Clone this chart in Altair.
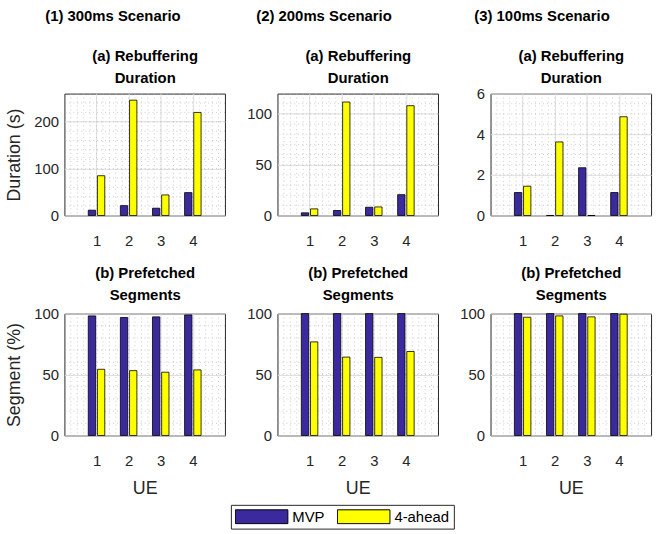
import altair as alt
import pandas as pd

# ---------------- data ----------------
ues = [1, 2, 3, 4]
series = ["MVP", "4-ahead"]
scenarios = ["(1) 300ms Scenario", "(2) 200ms Scenario", "(3) 100ms Scenario"]

rebuf_mvp = [
    [11.3, 21.0, 15.5, 48.8],     # 300ms
    [2.6, 4.9, 8.1, 20.5],        # 200ms
    [1.13, 0.0, 2.35, 1.13],      # 100ms
]
rebuf_ahead = [
    [84.8, 246.0, 43.8, 219.8],
    [6.5, 111.7, 8.4, 108.1],
    [1.44, 3.62, 0.0, 4.86],
]
seg_mvp = [
    [98.1, 96.8, 97.3, 98.9],
    [100.0, 100.0, 100.0, 100.0],
    [100.0, 100.0, 100.0, 100.0],
]
seg_ahead = [
    [54.3, 53.2, 51.9, 53.8],
    [76.8, 64.3, 64.1, 68.9],
    [97.0, 98.1, 97.3, 99.5],
]

rebuf_ymax = [260, 120, 6]
rebuf_ticks = [[0, 100, 200], [0, 50, 100], [0, 2, 4, 6]]
rebuf_minor = [20, 10, 0.5]
seg_ymax = 100
seg_ticks = [0, 50, 100]
seg_minor = 10

# ---------------- style ----------------
FONT = "Liberation Sans"
BLUE = "#3a2a9e"
YELLOW = "#ffff00"
DARK = "#262626"
GRID = "#e0e0e0"
MINOR = "#bdbdbd"

legend = alt.Legend(
    title=None, orient="none", legendX=168, legendY=415, direction="horizontal",
    symbolType="M-1,-0.264H1V0.264H-1Z", symbolSize=2809, clipHeight=16,
    symbolStrokeColor="black", symbolStrokeWidth=1, symbolOpacity=1,
    labelFont=FONT, labelFontSize=15, labelColor="black", labelOffset=4,
    columnPadding=12, strokeColor=DARK, padding=4, fillColor="white",
)


def panel(mvp, ahead, ymax, yticks, minor, head_lines, head_pad, ytitle, xtitle,
          scen=None, scen_dx=0):
    df = pd.DataFrame({
        "UE": ues + ues,
        "Series": [series[0]] * 4 + [series[1]] * 4,
        "Value": list(mvp) + list(ahead),
    })
    xs = alt.Scale(domain=[0, 5], nice=False, zero=False)
    ys = alt.Scale(domain=[0, ymax], nice=False)
    xaxis = alt.Axis(values=ues, format="d", grid=True, title=xtitle)
    yaxis = alt.Axis(values=yticks, format="d", grid=True, title=ytitle)
    head_axis = alt.Axis(
        orient="top", labels=False, ticks=False, domain=False, grid=False,
        title=head_lines, titleFont=FONT, titleFontSize=15, titleFontWeight="bold",
        titleColor="black", titleLineHeight=22, titlePadding=head_pad,
        minExtent=0, maxExtent=0,
    )

    minor_x = alt.Chart(alt.sequence(0.2, 5.0, 0.2, as_="mx")).mark_rule(
        color=MINOR, strokeDash=[1, 3], strokeWidth=0.8
    ).encode(x=alt.X("mx:Q", scale=xs, axis=head_axis))
    minor_y = alt.Chart(alt.sequence(minor, ymax, minor, as_="my")).mark_rule(
        color=MINOR, strokeDash=[1, 3], strokeWidth=0.8
    ).encode(y=alt.Y("my:Q", scale=ys, axis=yaxis))

    bars = alt.Chart(df).transform_calculate(
        x0=f"datum.UE + (datum.Series == '{series[0]}' ? -0.257 : 0.029)",
        x1="datum.x0 + 0.228",
    ).mark_rect(stroke="black", strokeWidth=0.8).encode(
        x=alt.X("x0:Q", scale=xs, axis=xaxis),
        x2="x1:Q",
        y=alt.Y("Value:Q", scale=ys, axis=yaxis),
        y2=alt.datum(0),
        color=alt.Color("Series:N", scale=alt.Scale(domain=series, range=[BLUE, YELLOW]),
                        legend=legend),
    )
    ch = alt.layer(minor_x, minor_y, bars).resolve_axis(x="independent").properties(
        width=162, height=123
    )
    if scen is not None:
        ch = ch.properties(title=alt.TitleParams(
            text=scen, fontSize=15, fontWeight="bold", font=FONT, color="black",
            anchor="middle", frame="group", dx=scen_dx, offset=25))
    return ch


scen_dx = [-32, -34, -29]
tops, bots = [], []
for i in range(3):
    tops.append(panel(rebuf_mvp[i], rebuf_ahead[i], rebuf_ymax[i], rebuf_ticks[i], rebuf_minor[i],
                      ["(a) Rebuffering", "Duration"], 8,
                      "Duration (s)" if i == 0 else None, None,
                      scen=scenarios[i], scen_dx=scen_dx[i]))
    bots.append(panel(seg_mvp[i], seg_ahead[i], seg_ymax, seg_ticks, seg_minor,
                      ["(b) Prefetched", "Segments"], 11,
                      "Segment (%)" if i == 0 else None, "UE"))

chart = alt.concat(*tops, *bots, columns=3, spacing={"row": 16, "column": 17}).properties(
    padding={"left": 5, "right": 5, "top": 6, "bottom": 5}, background="white",
    align="each",
).configure_view(
    stroke=DARK, strokeWidth=1
).configure_axis(
    labelFont=FONT, labelFontSize=15, labelColor=DARK, ticks=False, domain=False,
    gridColor=GRID, gridWidth=1, titleFont=FONT, titleFontSize=18, titleColor=DARK,
    titleFontWeight="normal",
).configure_axisX(
    labelPadding=18, titlePadding=12,
).configure_axisY(
    labelPadding=6, minExtent=34, maxExtent=34, titlePadding=7,
)

chart.save("out.html", embed_options={"renderer": "svg", "actions": False})
